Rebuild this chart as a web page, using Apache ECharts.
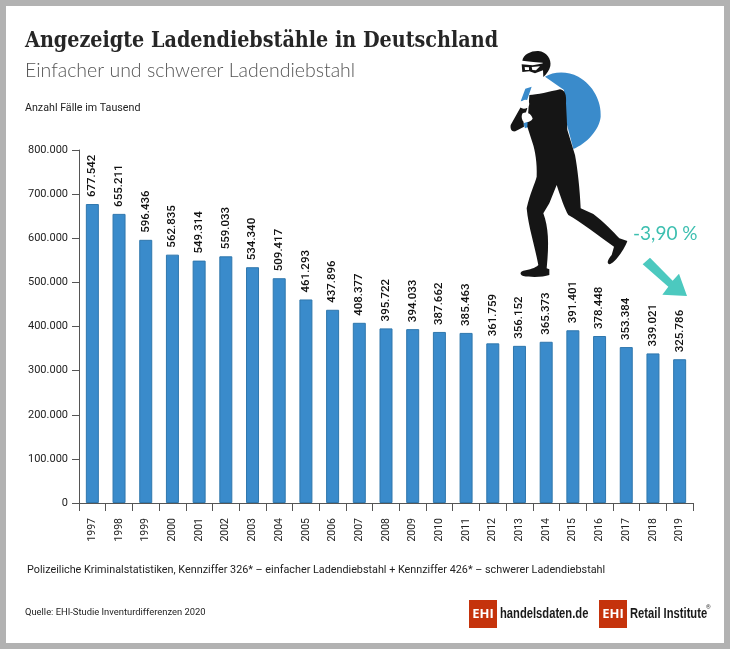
<!DOCTYPE html>
<html>
<head>
<meta charset="utf-8">
<title>Ladendiebstahl</title>
<style>
html, body { margin: 0; padding: 0; background: #fff; }
#main { width: 730px; height: 649px; }
</style>
<script src="https://cdn.jsdelivr.net/npm/echarts@6/dist/echarts.min.js"></script>
</head>
<body>
<div id="main"></div>
<script>
const years = ['1997','1998','1999','2000','2001','2002','2003','2004','2005','2006','2007','2008',
    '2009','2010','2011','2012','2013','2014','2015','2016','2017','2018','2019'];
const cases = [677542,655211,596436,562835,549314,559033,534340,509417,461293,437896,408377,395722,
    394033,387662,385463,361759,356152,365373,391401,378448,353384,339021,325786];

// 1234567 -> 1.234.567
const fmt = function (v) {
    return String(v).replace(/\B(?=(\d{3})+$)/g, '.');
};

const sansFont = 'Roboto, "Noto Sans", sans-serif';

function label(x, y, text, size, color, extra, scaleX) {
    return {
        type: 'text', x: x, y: y, scaleX: scaleX || 1,
        style: Object.assign({ text: text, fontSize: size, fill: color, fontFamily: sansFont, textVerticalAlign: 'middle' }, extra || {})
    };
}

// the graphic component has no plain 'path' type, so each drawing is registered as a shape
let shapeCount = 0;
function drawing(pathData, fill) {
    const name = 'drawing' + (shapeCount++);
    echarts.graphic.registerShape(name, echarts.graphic.extendPath(pathData, {}));
    return { type: name, style: { fill: fill } };
}

// Paths below are in the pixel space of a 3x crop, the group scales them back
const thief = {
    type: 'group', x: 490, y: 30, scaleX: 1 / 3, scaleY: 1 / 3,
    children: [
        drawing('M165,140 C190,125 230,122 265,140 C310,165 335,215 332,260 C328,300 290,340 250,357 L222,250 L222,180 Z', '#3a8bcb'),
        drawing('M125,170 L106,176 L92,214 L110,214 Z M100,280 L130,270 L130,285 L105,295 Z', '#3a8bcb'),
        // hood
        drawing('M97,92 C100,72 125,62 145,63 C170,65 185,88 181,108 C178,122 170,132 160,141 L158,98 L130,96 Z', '#151515'),
        // mask
        drawing('M95,103 L128,106 L161,100 L161,120 L135,130 L118,124 L97,126 Z', '#151515'),
        drawing('M104,111 L117,112 L117,120 L105,120 Z M125,111 L150,109 L138,121 L127,120 Z', '#fff'),
        // body and legs
        drawing('M118,195 C140,195 180,185 210,178 C225,180 230,195 228,220 L232,300 L255,375 C262,410 270,480 272,535 L310,552 C340,575 370,605 388,625 L412,633 C405,655 375,700 358,703 C350,700 352,690 365,675 L372,650 C330,620 270,575 235,555 C225,540 210,495 200,465 L178,520 L160,550 C175,590 178,640 170,715 L178,718 L178,735 C160,742 120,742 100,738 C88,733 90,725 100,722 C120,718 135,715 145,705 C135,650 115,590 110,535 C120,490 135,460 140,440 C142,400 135,360 128,340 L112,290 Z', '#151515'),
        // arm
        drawing('M94,228 L62,285 C60,298 66,306 76,304 L102,290 L100,270 L112,235 Z', '#151515'),
        // hands
        drawing('M98,212 C106,206 118,210 118,222 C116,236 100,240 90,232 C86,224 90,216 98,212 Z M98,250 C108,244 124,250 128,266 C122,276 106,280 98,272 C94,264 94,256 98,250 Z', '#fff')
    ]
};

const arrow = {
    type: 'group', x: 490, y: 30, scaleX: 1 / 3, scaleY: 1 / 3,
    children: [
        drawing('M480,683 L458,703 L535,770 L517,794 L591,798 L567,731 L548,752 Z', '#4cc9bf')
    ]
};

function logo(x, name, textX) {
    return [
        { type: 'rect', shape: { x: x, y: 600, width: 28, height: 28 }, style: { fill: '#c5330c' } },
        label(x + 14, 614.5, 'EHI', 13, '#fff', { fontWeight: 'bold', textAlign: 'center', fontFamily: '"Open Sans", sans-serif' }),
        label(textX, 614.5, name, 14, '#1a1a1a', { fontWeight: 'bold', fontFamily: '"Liberation Sans", sans-serif' }, 0.8)
    ];
}

const chart = echarts.init(document.getElementById('main'), null, { renderer: 'canvas' });
chart.setOption({
    animation: false,
    backgroundColor: '#fff',
    grid: { left: 79, right: 37, top: 150, bottom: 146 },
    xAxis: {
        type: 'category',
        data: years,
        axisLine: { lineStyle: { color: '#555', width: 1 } },
        axisTick: { show: true, length: 8, alignWithLabel: false, lineStyle: { color: '#555' } },
        axisLabel: { rotate: 90, margin: 15, fontSize: 10.5, color: '#222', fontFamily: sansFont, interval: 0, padding: [3, 0, 0, 0] }
    },
    yAxis: {
        type: 'value',
        min: 0,
        max: 800000,
        interval: 100000,
        splitLine: { show: false },
        axisLine: { show: true, lineStyle: { color: '#555', width: 1 } },
        axisTick: { show: true, length: 7, lineStyle: { color: '#555' } },
        axisLabel: { margin: 11, fontSize: 11, color: '#222', fontFamily: sansFont, formatter: fmt }
    },
    series: [{
        type: 'bar',
        data: cases,
        barWidth: 13,
        itemStyle: { color: '#3a8bcb', borderColor: '#2f77ad', borderWidth: 1 },
        label: {
            show: true,
            position: 'top',
            distance: 6,
            offset: [1, 0],
            rotate: 90,
            align: 'left',
            verticalAlign: 'middle',
            fontSize: 11.5,
            fontWeight: 500,
            color: '#111',
            fontFamily: sansFont,
            formatter: function (p) { return fmt(p.value); }
        }
    }],
    graphic: [
        // grey picture frame
        { type: 'rect', shape: { x: 0, y: 0, width: 730, height: 6 }, style: { fill: '#b2b2b2' } },
        { type: 'rect', shape: { x: 0, y: 0, width: 6, height: 649 }, style: { fill: '#b2b2b2' } },
        { type: 'rect', shape: { x: 724, y: 0, width: 6, height: 649 }, style: { fill: '#b2b2b2' } },
        { type: 'rect', shape: { x: 0, y: 643, width: 730, height: 6 }, style: { fill: '#b2b2b2' } },

        label(25, 41, 'Angezeigte Ladendiebstähle in Deutschland', 23, '#262626', { fontWeight: 'bold', fontFamily: '"DejaVu Serif", serif' }, 0.834),
        label(25, 71, 'Einfacher und schwerer Ladendiebstahl', 19.5, '#555', { fontFamily: 'Lato, sans-serif', fontWeight: 300 }),
        label(25, 108, 'Anzahl Fälle im Tausend', 10.7, '#222'),
        label(27, 570, 'Polizeiliche Kriminalstatistiken, Kennziffer 326* – einfacher Ladendiebstahl + Kennziffer 426* – schwerer Ladendiebstahl', 10.8, '#222'),
        label(25, 613, 'Quelle: EHI-Studie Inventurdifferenzen 2020', 9.4, '#222'),

        thief,
        arrow,
        label(633, 234, '-3,90 %', 19, '#3dbfb0', { fontFamily: 'Lato, sans-serif' })
    ].concat(
        logo(469, 'handelsdaten.de', 500),
        logo(599, 'Retail Institute', 630),
        [label(706, 607, '®', 6, '#333')]
    )
});
</script>
</body>
</html>
